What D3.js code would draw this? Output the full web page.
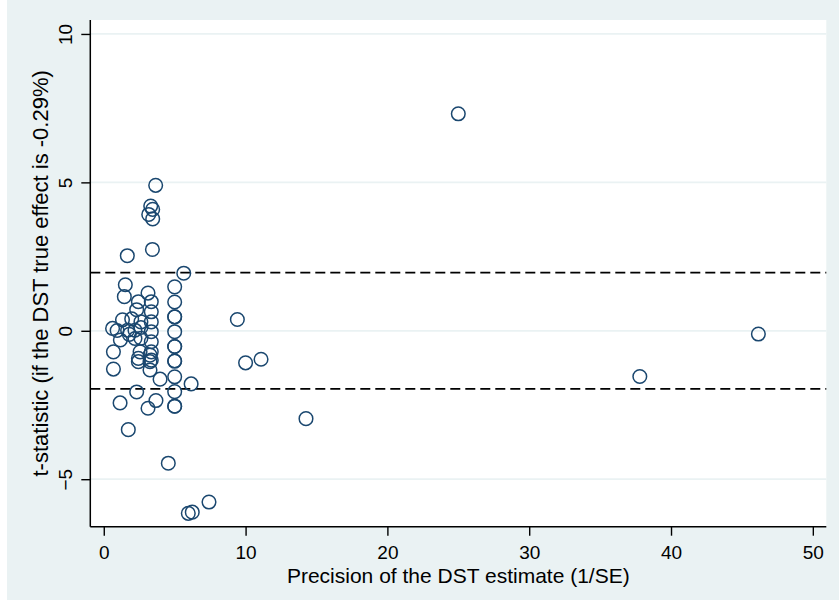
<!DOCTYPE html>
<html>
<head>
<meta charset="utf-8">
<script src="https://cdn.jsdelivr.net/npm/d3@7"></script>
<style>
  html, body { margin: 0; padding: 0; background: #ffffff; }
  svg { display: block; font-family: "Liberation Sans", Arial, Helvetica, sans-serif; }
</style>
</head>
<body>
<svg id="chart" width="840" height="600"></svg>
<script>
// ---- data ----
const precision = [
  25.0, 46.16, 37.8, 14.26, 9.42, 10.0, 11.09, 4.55, 7.42, 6.24, 5.96, 6.16, 5.64, 3.97,
  3.66, 3.31, 3.45, 3.17, 3.45, 3.43, 1.66,
  5.0, 5.0, 5.0, 5.0, 5.0, 5.0, 5.0, 5.0, 5.0, 5.0, 5.0, 5.0, 5.0,
  1.52, 1.45, 3.12, 3.35, 2.44, 2.32, 3.35, 1.32, 1.97, 2.62, 3.35,
  0.62, 0.94, 1.68, 2.2, 2.62, 3.35, 1.17, 1.8, 2.2, 2.62, 3.35,
  0.68, 2.56, 3.35, 2.44, 3.26, 3.35, 2.44, 3.26, 0.68, 3.26,
  2.32, 1.15, 3.68, 3.12, 1.73
];
const tstat = [
  7.31, -0.11, -1.54, -2.96, 0.38, -1.08, -0.96, -4.46, -5.77, -6.11, -6.15, -1.79, 1.94, -1.63,
  4.90, 4.20, 4.09, 3.92, 3.77, 2.74, 2.53,
  1.48, 0.97, 0.47, 0.47, -0.03, -0.53, -0.53, -1.02, -1.02, -1.55, -2.05, -2.54, -2.54,
  1.55, 1.15, 1.27, 0.98, 0.98, 0.71, 0.64, 0.37, 0.40, 0.30, 0.30,
  0.08, 0.01, 0.02, 0.02, 0.11, -0.03, -0.31, -0.12, -0.26, -0.25, -0.37,
  -0.71, -0.71, -0.71, -0.93, -0.82, -0.99, -1.04, -1.04, -1.29, -1.32,
  -2.06, -2.43, -2.35, -2.61, -3.33
];
const xTicks = [0, 10, 20, 30, 40, 50];
const yTicks = [-5, 0, 5, 10];
const criticalValues = [1.96, -1.96];
const xTitle = "Precision of the DST estimate (1/SE)";
const yTitle = "t-statistic (if the DST true effect is -0.29%)";

// ---- layout ----
const W = 840, H = 600;
const plot = { left: 90.3, right: 826.3, top: 20, bottom: 526.7 };
const bg = "#EAF2F3", markerColor = "#1A476F";

const svg = d3.select("#chart");
svg.append("rect").attr("x", 7).attr("y", 0).attr("width", 832).attr("height", H).attr("fill", bg);
svg.append("rect").attr("x", plot.left).attr("y", plot.top)
  .attr("width", plot.right - plot.left).attr("height", plot.bottom - plot.top).attr("fill", "#ffffff");

const x = d3.scaleLinear().domain([-0.95, 50.95]).range([plot.left, plot.right]);
const y = d3.scaleLinear().domain([-6.60, 10.47]).range([plot.bottom, plot.top]);

// gridlines
svg.append("g").selectAll("line").data(yTicks).join("line")
  .attr("x1", plot.left).attr("x2", plot.right)
  .attr("y1", d => y(d)).attr("y2", d => y(d))
  .attr("stroke", bg).attr("stroke-width", 1.8);

// critical value lines
svg.append("g").selectAll("line").data(criticalValues).join("line")
  .attr("x1", plot.left).attr("x2", plot.right)
  .attr("y1", d => y(d)).attr("y2", d => y(d))
  .attr("stroke", "#000").attr("stroke-width", 1.8).attr("stroke-dasharray", "10,5");

// points
const pts = precision.map((p, i) => ({ p, t: tstat[i] }));
svg.append("g").selectAll("circle").data(pts).join("circle")
  .attr("cx", d => x(d.p)).attr("cy", d => y(d.t)).attr("r", 6.8)
  .attr("fill", "none").attr("stroke", markerColor).attr("stroke-width", 1.5);

// axes
const xAxis = svg.append("g").attr("transform", `translate(0,${plot.bottom})`)
  .call(d3.axisBottom(x).tickValues(xTicks).tickSize(9).tickPadding(10).tickSizeOuter(0));
xAxis.select(".domain").attr("d", `M${plot.left},0H${plot.right}`).attr("stroke", "#000").attr("stroke-width", 1.5);
xAxis.selectAll(".tick line").attr("stroke", "#000").attr("stroke-width", 1.4);
xAxis.selectAll(".tick text").attr("font-size", 19).attr("fill", "#000")
  .attr("font-family", "Liberation Sans, Arial, sans-serif");

const yAxis = svg.append("g").attr("transform", `translate(${plot.left},0)`)
  .call(d3.axisLeft(y).tickValues(yTicks).tickSize(9).tickSizeOuter(0));
yAxis.select(".domain").attr("d", `M0,${plot.top}V${plot.bottom}`).attr("stroke", "#000").attr("stroke-width", 1.5);
yAxis.selectAll(".tick line").attr("stroke", "#000").attr("stroke-width", 1.4);
yAxis.selectAll(".tick text").attr("font-size", 19).attr("fill", "#000")
  .attr("font-family", "Liberation Sans, Arial, sans-serif")
  .attr("x", 0).attr("dy", 0).attr("text-anchor", "middle")
  .attr("transform", "translate(-18,0) rotate(-90)");

// titles
svg.append("text").attr("x", (plot.left + plot.right) / 2).attr("y", 583)
  .attr("text-anchor", "middle").attr("font-size", 21).attr("fill", "#000").text(xTitle);
svg.append("text")
  .attr("transform", `translate(47.5,${(plot.top + plot.bottom) / 2}) rotate(-90)`)
  .attr("text-anchor", "middle").attr("font-size", 22).attr("fill", "#000").text(yTitle);
</script>
</body>
</html>
